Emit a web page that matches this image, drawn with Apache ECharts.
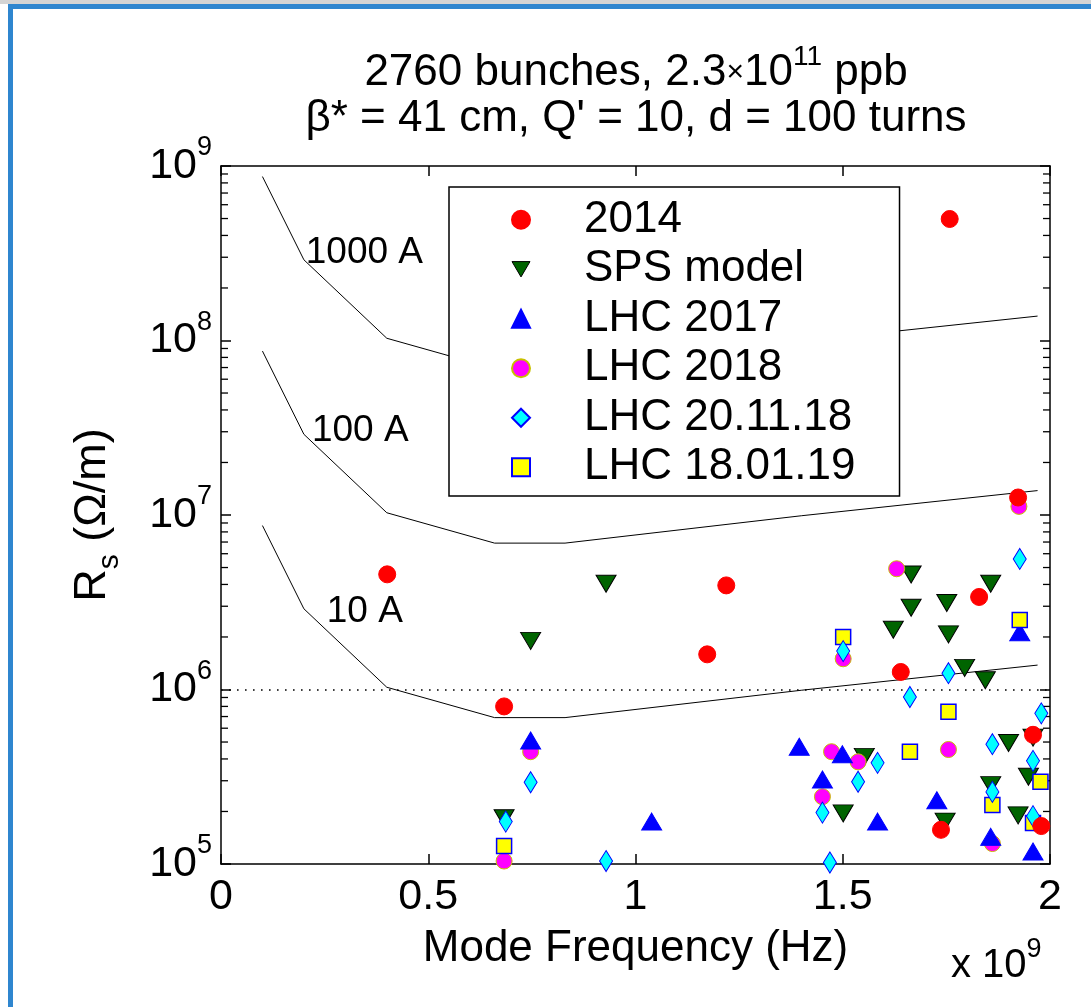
<!DOCTYPE html>
<html>
<head>
    <meta charset="utf-8">
    <script src="https://cdn.jsdelivr.net/npm/echarts@6/dist/echarts.min.js"></script>
    <style>
        html, body { margin: 0; padding: 0; background: #fff; }
        #container { width: 1091px; height: 1007px; }
    </style>
</head>
<body>
    <div id="container"></div>
    <script type="text/javascript">
        // frequencies are in units of 1e9 Hz (axis shows "x 10^9")
        var xMin = 0, xMax = 2;
        var yMin = 1e5, yMax = 1e9;
        var xTicks = [0, 0.5, 1, 1.5, 2];
        var decades = [1e5, 1e6, 1e7, 1e8];
        var minorMantissa = [2, 3, 4, 5, 6, 7, 8, 9];

        // threshold curves
        var curveFreq = [0.1, 0.2, 0.4, 0.66, 0.83, 1.4, 1.97];
        var curve10A = [8.7e6, 2.9e6, 1.03e6, 6.9e5, 6.9e5, 9.9e5, 1.38e6];
        var curve100A = [8.7e7, 2.9e7, 1.03e7, 6.9e6, 6.9e6, 9.9e6, 1.38e7];
        var curve1000A = [8.7e8, 2.9e8, 1.03e8, 6.9e7, 6.9e7, 9.9e7, 1.38e8];
        var curveNames = ['1000 A', '100 A', '10 A'];
        var curveLabelAt = [[0.346, 3.18e8], [0.336, 3.04e7], [0.347, 2.8e6]];
        var refLevel = 1e6;

        // measured / modelled modes [freq, Rs]
        var data2014 = [[0.401, 4.57e6], [0.683, 8.0e5], [1.219, 3.95e6], [1.173, 1.59e6], [1.640, 1.26e6],
            [1.829, 3.39e6], [1.758, 4.97e8], [1.923, 1.26e7], [1.959, 5.5e5], [1.737, 1.57e5], [1.979, 1.65e5]];
        var dataSPS = [[0.929, 4.04e6], [0.747, 1.90e6], [0.683, 1.83e5], [1.665, 4.56e6], [1.665, 2.94e6],
            [1.622, 2.2e6], [1.751, 3.13e6], [1.755, 2.07e6], [1.857, 4.04e6], [1.794, 1.33e6], [1.844, 1.13e6],
            [1.900, 4.94e5], [1.959, 5.3e5], [1.501, 1.95e5], [1.552, 4.11e5], [1.747, 1.75e5], [1.857, 2.83e5],
            [1.923, 1.9e5], [1.948, 3.16e5]];
        var dataLHC2017 = [[0.747, 5.1e5], [1.039, 1.75e5], [1.395, 4.7e5], [1.451, 3.05e5], [1.499, 4.26e5],
            [1.584, 1.75e5], [1.727, 2.32e5], [1.857, 1.43e5], [1.959, 1.18e5], [1.927, 2.13e6]];
        var dataLHC2018 = [[0.683, 1.04e5], [0.747, 4.4e5], [1.501, 1.5e6], [1.630, 4.92e6], [1.473, 4.4e5],
            [1.537, 3.85e5], [1.451, 2.43e5], [1.755, 4.53e5], [1.925, 1.12e7], [1.861, 1.31e5]];
        var dataLHC201118 = [[0.687, 1.75e5], [0.747, 2.94e5], [0.929, 1.04e5], [1.469, 1.02e5], [1.501, 1.66e6],
            [1.662, 9.06e5], [1.755, 1.24e6], [1.537, 2.96e5], [1.584, 3.8e5], [1.451, 1.97e5], [1.861, 4.86e5],
            [1.861, 2.59e5], [1.927, 5.6e6], [1.979, 7.3e5], [1.959, 3.9e5], [1.959, 1.88e5]];
        var dataLHC180119 = [[0.683, 1.27e5], [1.501, 2.0e6], [1.662, 4.4e5], [1.755, 7.45e5], [1.861, 2.18e5],
            [1.927, 2.5e6], [1.977, 2.96e5], [1.959, 1.72e5]];

        var legendNames = ['2014', 'SPS model', 'LHC 2017', 'LHC 2018', 'LHC 20.11.18', 'LHC 18.01.19'];

        var FONT = '"Liberation Sans", Arial, Helvetica, sans-serif';

        function zip(xs, ys) {
            var out = [];
            for (var i = 0; i < xs.length; i++) out.push([xs[i], ys[i]]);
            return out;
        }

        var minorTicks = [];
        decades.forEach(function (d) {
            minorMantissa.forEach(function (m) { minorTicks.push([xMin, d * m]); });
        });

        function curveSeries(name, values) {
            return {
                name: name,
                type: 'line',
                data: zip(curveFreq, values),
                symbol: 'none',
                silent: true,
                z: 1,
                lineStyle: { color: '#000', width: 1 }
            };
        }

        function scatterSeries(name, data, symbol, size, fill, edge, edgeW, z, rotate) {
            return {
                name: name,
                type: 'scatter',
                data: data,
                symbol: symbol,
                symbolSize: size,
                symbolRotate: rotate || 0,
                z: z,
                itemStyle: { color: fill, borderColor: edge, borderWidth: edgeW, opacity: 1 }
            };
        }

        // superscript: shift the exponent up with an uneven padding (top negative, bottom positive)
        function supStyle(size, lift, colorKey) {
            var s = { fontSize: size, fontFamily: FONT, padding: [-lift, 0, lift, 0] };
            s[colorKey] = '#000';
            return s;
        }

        var supRich = {
            b: { fontSize: 43, fontFamily: FONT, color: '#000', lineHeight: 46 },
            s: supStyle(27, 18, 'color')
        };

        var c10 = curveSeries('10A', curve10A);
        c10.markLine = {
            silent: true,
            symbol: ['none', 'none'],
            label: { show: false },
            lineStyle: { color: '#000', width: 1.6, type: [1.6, 6.4] },
            data: [{ yAxis: refLevel }]
        };

        var legendData = legendNames.map(function (n) {
            if (n === 'SPS model') {
                return { name: n, icon: 'path://M0,0 L20,0 L10,17 Z', itemStyle: { borderColor: '#000', borderWidth: 1 } };
            }
            return { name: n };
        });

        var dom = document.getElementById('container');
        var myChart = echarts.init(dom, null, { renderer: 'canvas' });

        var option = {
            backgroundColor: '#fff',
            animation: false,
            textStyle: { fontFamily: FONT },
            title: {
                text: '2760 bunches, 2.3{x|×}10{s|11} ppb\nβ* = 41 cm, Q\' = 10, d = 100 turns',
                left: 636,
                textAlign: 'center',
                top: 50,
                padding: 0,
                textStyle: {
                    fontSize: 44, fontWeight: 'normal', color: '#000', fontFamily: FONT, lineHeight: 46,
                    rich: {
                        x: { fontSize: 30, fontFamily: FONT, color: '#000', lineHeight: 46 },
                        s: supStyle(28, 16, 'color')
                    }
                }
            },
            grid: { left: 221, top: 166, width: 829, height: 698, containLabel: false },
            legend: {
                data: legendData,
                orient: 'vertical',
                left: 449,
                top: 187,
                itemWidth: 18,
                itemHeight: 18,
                itemGap: 0,
                padding: [8, 44, 4, 62],
                backgroundColor: '#fff',
                borderColor: '#000',
                borderWidth: 1.5,
                z: 20,
                textStyle: { fontSize: 44, fontFamily: FONT, color: '#000', lineHeight: 49.5, padding: [0, 0, 0, 49] }
            },
            xAxis: [{
                type: 'value', min: xMin, max: xMax, interval: 0.5,
                name: 'Mode Frequency (Hz)', nameLocation: 'middle', nameGap: 63,
                nameTextStyle: { fontSize: 44, color: '#000', fontFamily: FONT },
                axisLine: { show: true, onZero: false, lineStyle: { color: '#000', width: 1.5 } },
                axisTick: { show: true, inside: true, length: 10, lineStyle: { color: '#000', width: 1.5 } },
                axisLabel: {
                    fontSize: 43, color: '#000', margin: 12, fontFamily: FONT,
                    formatter: function (v) { return xTicks.indexOf(v) >= 0 ? String(v) : ''; }
                },
                splitLine: { show: false }
            }, {
                type: 'value', min: xMin, max: xMax, interval: 0.5, position: 'top',
                axisLine: { show: true, onZero: false, lineStyle: { color: '#000', width: 1.5 } },
                axisTick: { show: true, inside: true, length: 10, lineStyle: { color: '#000', width: 1.5 } },
                axisLabel: { show: false },
                splitLine: { show: false }
            }],
            yAxis: [{
                type: 'log', logBase: 10, min: yMin, max: yMax,
                name: '{r|R}{sub|s}{r| (Ω/m)}', nameLocation: 'middle', nameGap: 104, nameRotate: 90,
                nameTextStyle: {
                    rich: {
                        r: { fontSize: 45, fontFamily: FONT, color: '#000', lineHeight: 48 },
                        sub: { fontSize: 30, fontFamily: FONT, color: '#000', verticalAlign: 'bottom', lineHeight: 30, padding: [0, 0, -8, 0] }
                    }
                },
                axisLine: { show: true, onZero: false, lineStyle: { color: '#000', width: 1.5 } },
                axisTick: { show: true, inside: true, length: 10, lineStyle: { color: '#000', width: 1.5 } },
                axisLabel: {
                    margin: 9,
                    formatter: function (v) {
                        var e = Math.round(Math.log(v) / Math.LN10);
                        return '{b|10}{s|' + e + '}';
                    },
                    rich: supRich
                },
                splitLine: { show: false }
            }, {
                type: 'log', logBase: 10, min: yMin, max: yMax, position: 'right',
                axisLine: { show: true, onZero: false, lineStyle: { color: '#000', width: 1.5 } },
                axisTick: { show: true, inside: true, length: 10, lineStyle: { color: '#000', width: 1.5 } },
                axisLabel: { show: false },
                splitLine: { show: false }
            }],
            graphic: [
                { type: 'rect', shape: { x: 0, y: 0, width: 1091, height: 4 }, style: { fill: '#d4d4d4' }, silent: true },
                { type: 'rect', shape: { x: 8, y: 4, width: 1083, height: 5 }, style: { fill: '#2f86cf' }, silent: true },
                { type: 'rect', shape: { x: 8, y: 4, width: 5, height: 1003 }, style: { fill: '#2f86cf' }, silent: true },
                {
                    type: 'text', left: 951, top: 936, silent: true,
                    style: {
                        text: '{b|x 10}{s|9}',
                        rich: {
                            b: { fontSize: 40, fontFamily: FONT, fill: '#000', lineHeight: 46 },
                            s: supStyle(27, 16, 'fill')
                        }
                    }
                }
            ],
            series: [
                curveSeries('1000A', curve1000A),
                curveSeries('100A', curve100A),
                c10,
                {
                    name: 'curveLabels',
                    type: 'scatter',
                    silent: true,
                    symbolSize: 0,
                    z: 1,
                    itemStyle: { opacity: 1 },
                    data: curveLabelAt.map(function (p, i) { return { name: curveNames[i], value: p }; }),
                    label: {
                        show: true, position: 'inside', formatter: '{b}', opacity: 1,
                        fontSize: 37, color: '#000', fontFamily: FONT, textBorderWidth: 0
                    }
                },
                {
                    name: 'minorTicks',
                    type: 'custom',
                    silent: true,
                    z: 3,
                    data: minorTicks,
                    renderItem: function (params, api) {
                        var v = api.value(1);
                        var l = api.coord([xMin, v]);
                        var r = api.coord([xMax, v]);
                        var st = { stroke: '#000', lineWidth: 1.3 };
                        return {
                            type: 'group',
                            children: [
                                { type: 'line', shape: { x1: l[0], y1: l[1], x2: l[0] + 7, y2: l[1] }, style: st },
                                { type: 'line', shape: { x1: r[0] - 7, y1: r[1], x2: r[0], y2: r[1] }, style: st }
                            ]
                        };
                    }
                },
                scatterSeries('SPS model', dataSPS, 'triangle', [20, 17], '#006400', '#000', 1, 4, 180),
                scatterSeries('LHC 2018', dataLHC2018, 'circle', 16, '#ff00ff', '#c8c000', 1, 5),
                scatterSeries('LHC 2017', dataLHC2017, 'triangle', [20, 17], '#0000ff', '#0000ff', 1, 6),
                scatterSeries('LHC 18.01.19', dataLHC180119, 'rect', 15, '#ffff00', '#0000ff', 1.5, 7),
                scatterSeries('LHC 20.11.18', dataLHC201118, 'diamond', [13, 21], '#00ffff', '#0000ff', 1, 8),
                scatterSeries('2014', data2014, 'circle', 17, '#ff0000', '#ff0000', 1, 9)
            ]
        };

        if (option && typeof option === "object") {
            myChart.setOption(option, true);
        }
    </script>
</body>
</html>
